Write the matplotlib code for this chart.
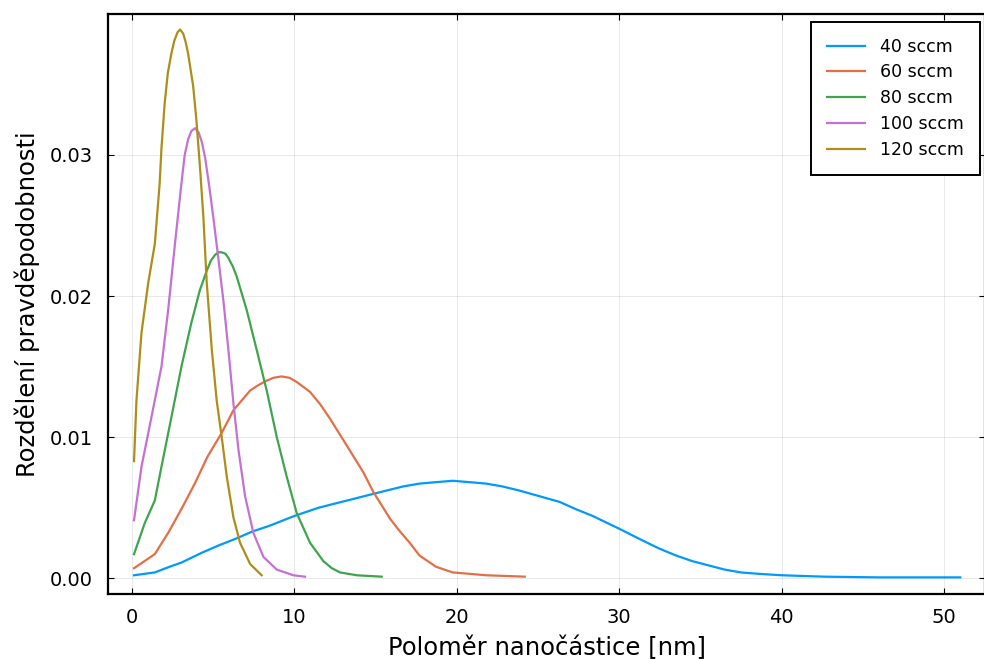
import matplotlib
matplotlib.use("Agg")
import matplotlib.pyplot as plt

# Particle radius distributions for different gas flow rates
labels = ["40 sccm", "60 sccm", "80 sccm", "100 sccm", "120 sccm"]
colors = ["#009AFA", "#E36F47", "#3EA44E", "#C371D2", "#AC8E18"]

r_40 = [0.12, 1.4, 2.3, 3.04, 4.3, 5.3, 6.4, 7.4, 8.44, 9.98, 11.52, 13.58,
        15.64, 16.7, 17.7, 18.7, 19.75, 20.8, 21.8, 22.8, 23.87, 25.1, 26.33,
        27.3, 28.37, 30.0, 31.2, 32.45, 33.5, 34.5, 35.5, 36.5, 37.5, 38.6,
        40.0, 42.65, 46.0, 51.0]
p_40 = [0.0002, 0.0004, 0.0008, 0.0011, 0.0018, 0.0023, 0.0028, 0.0033,
        0.0037, 0.0044, 0.0050, 0.0056, 0.0062, 0.0065, 0.0067, 0.0068,
        0.0069, 0.0068, 0.0067, 0.0065, 0.0062, 0.0058, 0.0054, 0.0049,
        0.0044, 0.0035, 0.0028, 0.0021, 0.0016, 0.0012, 0.0009, 0.0006,
        0.0004, 0.0003, 0.0002, 0.0001, 0.00005, 0.00005]

r_60 = [0.12, 1.4, 2.22, 3.04, 3.86, 4.64, 5.52, 6.24, 7.27, 7.8, 8.29, 8.7,
        9.21, 9.7, 10.14, 10.96, 11.6, 12.19, 13.22, 14.24, 14.86, 15.89,
        16.5, 17.1, 17.7, 18.72, 19.75, 20.8, 21.8, 24.18]
p_60 = [0.0007, 0.0017, 0.0032, 0.0049, 0.0067, 0.0086, 0.0103, 0.0119,
        0.0133, 0.0137, 0.0140, 0.0142, 0.0143, 0.0142, 0.0139, 0.0132,
        0.0123, 0.0113, 0.0094, 0.0075, 0.0061, 0.0042, 0.0033, 0.0025,
        0.0016, 0.0008, 0.0004, 0.0003, 0.0002, 0.0001]

r_80 = [0.12, 0.78, 1.4, 1.81, 2.42, 3.04, 3.65, 4.17, 4.6, 4.85, 5.1, 5.3,
        5.52, 5.75, 5.93, 6.2, 6.44, 7.06, 7.67, 8.29, 8.91, 9.52, 10.14,
        10.96, 11.78, 12.3, 12.81, 13.84, 15.37]
p_80 = [0.0017, 0.0039, 0.0055, 0.0079, 0.0114, 0.0150, 0.0181, 0.0204,
        0.0218, 0.0225, 0.0229, 0.0231, 0.0231, 0.0230, 0.0227, 0.0221,
        0.0214, 0.0190, 0.0162, 0.0133, 0.0100, 0.0072, 0.0046, 0.0025,
        0.0012, 0.0007, 0.0004, 0.0002, 0.0001]

r_100 = [0.12, 0.58, 1.19, 1.81, 2.22, 2.64, 3.04, 3.24, 3.45, 3.65, 3.88,
         4.1, 4.3, 4.5, 4.75, 5.0, 5.32, 5.62, 5.93, 6.24, 6.55, 6.96, 7.47,
         8.09, 8.91, 9.93, 10.65]
p_100 = [0.0041, 0.0079, 0.0114, 0.0150, 0.0190, 0.0237, 0.0280, 0.0300,
         0.0311, 0.0317, 0.0319, 0.0316, 0.0309, 0.0298, 0.0278, 0.0256,
         0.0226, 0.0197, 0.0162, 0.0124, 0.0091, 0.0058, 0.0032, 0.0015,
         0.0006, 0.0002, 0.0001]

r_120 = [0.12, 0.27, 0.58, 0.99, 1.4, 1.7, 1.81, 2.01, 2.2, 2.42, 2.6, 2.8,
         2.96, 3.15, 3.3, 3.45, 3.76, 3.96, 4.19, 4.39, 4.6, 4.91, 5.21,
         5.52, 5.83, 6.24, 6.65, 7.27, 7.98]
p_120 = [0.0083, 0.0126, 0.0174, 0.0209, 0.0237, 0.0280, 0.0305, 0.0337,
         0.0358, 0.0372, 0.0381, 0.0387, 0.0389, 0.0386, 0.0380, 0.0372,
         0.0349, 0.0325, 0.0290, 0.0256, 0.0209, 0.0162, 0.0126, 0.0100,
         0.0072, 0.0043, 0.0025, 0.0010, 0.0002]

radii = [r_40, r_60, r_80, r_100, r_120]
probs = [p_40, p_60, p_80, p_100, p_120]

fig = plt.figure(figsize=(9.84, 6.59), dpi=100)
ax = fig.add_axes([0.1098, 0.0986, 0.8912, 0.8802])

for r, p, lab, c in zip(radii, probs, labels, colors):
    ax.plot(r, p, color=c, lw=1.6, label=lab)

ax.set_xlim(-1.48, 52.52)
ax.set_ylim(-0.00113, 0.0400)
ax.set_xticks([0, 10, 20, 30, 40, 50])
ax.set_yticks([0.00, 0.01, 0.02, 0.03])
ax.set_yticklabels(["0.00", "0.01", "0.02", "0.03"])
ax.grid(True, color="#000000", alpha=0.1, lw=0.6)
ax.tick_params(direction="in", length=4, width=0.8, labelsize=14,
               top=True, right=True)
ax.tick_params(axis="x", pad=10)
ax.tick_params(axis="y", pad=11)
for s in ax.spines.values():
    s.set_linewidth(1.6)

ax.set_xlabel("Poloměr nanočástice [nm]", fontsize=17.5, labelpad=6)
ax.set_ylabel("Rozdělení pravděpodobnosti", fontsize=17.5, labelpad=7)

leg = ax.legend(loc="upper right", bbox_to_anchor=(980 / 984, 1 - 22 / 659),
                bbox_transform=fig.transFigure, borderaxespad=0,
                fontsize=12.5, fancybox=False, framealpha=1,
                edgecolor="black", handlelength=2.2, handletextpad=0.9,
                labelspacing=0.45, borderpad=0.9)
leg.get_frame().set_linewidth(1.4)

fig.savefig("out.png", dpi=100)
